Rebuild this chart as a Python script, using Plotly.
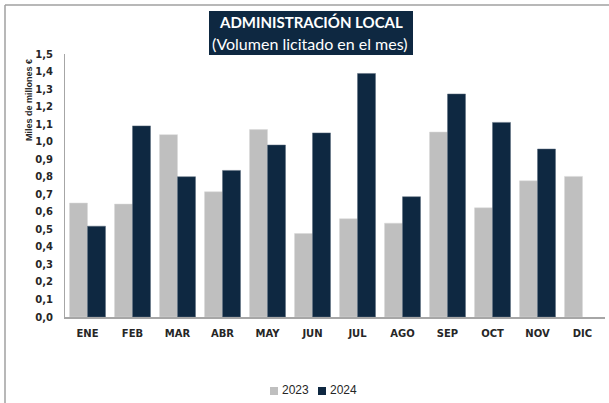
import plotly.graph_objects as go

months = ["ENE", "FEB", "MAR", "ABR", "MAY", "JUN", "JUL", "AGO", "SEP", "OCT", "NOV", "DIC"]
vals_2023 = [0.65, 0.644, 1.04, 0.714, 1.069, 0.476, 0.56, 0.535, 1.055, 0.623, 0.777, 0.802]
vals_2024 = [0.518, 1.09, 0.80, 0.836, 0.981, 1.05, 1.389, 0.686, 1.272, 1.11, 0.958, None]
y_ticks = [i / 10 for i in range(16)]
y_tick_labels = [f"<b>{v:.1f}</b>".replace(".", ",") for v in y_ticks]
x_tick_labels = [f"<b>{m}</b>" for m in months]

C23, C24 = "#bfbfbf", "#0e2841"
W, H = 609, 403
L, R, T, B = 65, 4, 54, 86
pw, ph = W - L - R, H - T - B

def px(x):
    return (x - L) / pw

def py(y):
    return (H - B - y) / ph

fig = go.Figure()
fig.add_bar(name="2023", x=months, y=vals_2023, marker_color=C23,
            marker_line=dict(color="#d9d9d9", width=0.5))
fig.add_bar(name="2024", x=months, y=vals_2024, marker_color=C24,
            marker_line=dict(color="#5a6b7d", width=0.5))

fig.update_layout(
    width=W, height=H,
    margin=dict(l=L, r=R, t=T, b=B, autoexpand=False),
    paper_bgcolor="white", plot_bgcolor="white",
    barmode="group", bargap=0.2, bargroupgap=0,
    showlegend=False,
    xaxis=dict(showline=True, linecolor="#a6a6a6", linewidth=1.5, ticks="",
               tickvals=months, ticktext=x_tick_labels, automargin=False,
               ticklabelstandoff=6,
               tickfont=dict(family="DejaVu Sans", size=10, color="#262626"),
               showgrid=False),
    yaxis=dict(range=[0, 1.5], tickvals=y_ticks, ticktext=y_tick_labels, automargin=False,
               showline=True, linecolor="#a6a6a6", linewidth=1, ticks="",
               ticklabelstandoff=9,
               showgrid=False, zeroline=False,
               tickfont=dict(family="DejaVu Sans", size=10, color="#262626")),
    font=dict(family="Liberation Sans"),
)

shapes = [
    dict(type="line", xref="paper", yref="paper", x0=px(5), x1=px(609), y0=py(5), y1=py(5),
         line=dict(color="#a0a0a0", width=1.5)),
    dict(type="line", xref="paper", yref="paper", x0=px(5), x1=px(5), y0=py(5), y1=py(403),
         line=dict(color="#a0a0a0", width=1.5)),
    dict(type="rect", xref="paper", yref="paper", x0=px(209), x1=px(413), y0=py(55), y1=py(11),
         fillcolor=C24, line=dict(width=0), layer="above"),
    # legend swatches
    dict(type="rect", xref="paper", yref="paper", x0=px(270), x1=px(278), y0=py(395), y1=py(387),
         fillcolor=C23, line=dict(width=0)),
    dict(type="rect", xref="paper", yref="paper", x0=px(318), x1=px(326), y0=py(395), y1=py(387),
         fillcolor=C24, line=dict(width=0)),
]
fig.update_layout(shapes=shapes)

fig.add_annotation(xref="paper", yref="paper", x=px(280), y=py(390), text="2023",
                   showarrow=False, font=dict(family="Liberation Sans", size=12, color="#262626"),
                   xanchor="left", yanchor="middle")
fig.add_annotation(xref="paper", yref="paper", x=px(328), y=py(390), text="2024",
                   showarrow=False, font=dict(family="Liberation Sans", size=12, color="#262626"),
                   xanchor="left", yanchor="middle")

fig.add_annotation(xref="paper", yref="paper", x=px(311), y=py(22), text="<b>ADMINISTRACIÓN LOCAL</b>",
                   showarrow=False, font=dict(family="Lato", size=15, color="white"),
                   xanchor="center", yanchor="middle")
fig.add_annotation(xref="paper", yref="paper", x=px(310), y=py(44), text="(Volumen licitado en el mes)",
                   showarrow=False, font=dict(family="Lato", size=16, color="white"),
                   xanchor="center", yanchor="middle")
fig.add_annotation(xref="paper", yref="paper", x=px(29), y=py(100), text="<b>Miles de millones €</b>",
                   showarrow=False, textangle=-90, font=dict(family="Liberation Sans", size=9, color="#262626"),
                   xanchor="center", yanchor="middle")

fig.write_html("out.html",
               config={"displayModeBar": False},
               post_script="document.body.style.margin='0';document.body.style.overflow='hidden';")
